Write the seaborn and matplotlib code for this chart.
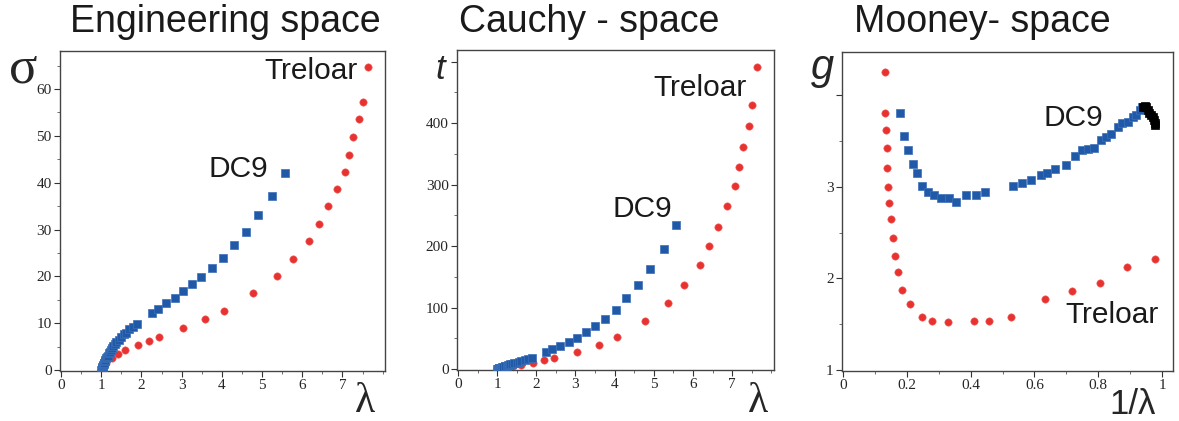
import matplotlib
matplotlib.use("Agg")
import matplotlib.pyplot as plt
import seaborn as sns
import numpy as np
from matplotlib.ticker import MultipleLocator, FixedLocator

# Treloar data (red circles), stretch lambda shared by the first two panels
treloar_lam = [1.00, 1.02, 1.12, 1.26, 1.41, 1.60, 1.92, 2.20, 2.44, 3.03, 3.59, 4.05, 4.78,
               5.37, 5.77, 6.17, 6.42, 6.63, 6.87, 7.07, 7.17, 7.27, 7.42, 7.52, 7.63]
treloar_sigma = [0.0, 0.3, 1.4, 2.5, 3.4, 4.3, 5.3, 6.2, 7.1, 9.0, 10.9, 12.7, 16.4,
                 20.1, 23.8, 27.6, 31.2, 35.0, 38.7, 42.3, 46.0, 49.8, 53.5, 57.2, 64.6]
treloar_t = [0.0, 0.3, 1.6, 3.2, 4.9, 7.0, 10.3, 14.1, 17.9, 27.6, 39.6, 51.5, 78,
             108, 137, 170, 200, 231, 266, 298, 329, 361, 396, 429, 491]
treloar_inv = [0.131, 0.133, 0.135, 0.137, 0.139, 0.141, 0.145, 0.150, 0.156, 0.162, 0.172, 0.186,
               0.209, 0.247, 0.279, 0.330, 0.412, 0.458, 0.525, 0.632, 0.718, 0.806, 0.891, 0.979]
treloar_g = [4.25, 3.81, 3.62, 3.43, 3.21, 3.00, 2.82, 2.65, 2.44, 2.24, 2.07, 1.87,
             1.72, 1.58, 1.54, 1.52, 1.54, 1.53, 1.58, 1.77, 1.86, 1.95, 2.13, 2.21]

# DC9 data (blue squares)
dc9_lam = [1.00, 1.01, 1.02, 1.026, 1.031, 1.037, 1.043, 1.05, 1.057, 1.066, 1.075, 1.09, 1.10,
           1.12, 1.14, 1.16, 1.19, 1.21, 1.24, 1.27, 1.30, 1.34, 1.38, 1.43, 1.50, 1.57, 1.61,
           1.70, 1.78, 1.88, 2.26, 2.41, 2.61, 2.83, 3.03, 3.26, 3.49, 3.75, 4.04, 4.30, 4.59,
           4.91, 5.26, 5.56]
dc9_sigma = [0.0, 0.2, 0.4, 0.5, 0.6, 0.75, 0.9, 1.05, 1.2, 1.4, 1.6, 1.9, 2.1,
             2.5, 2.8, 3.1, 3.6, 3.9, 4.3, 4.7, 5.1, 5.6, 6.0, 6.5, 7.1, 7.7, 8.0,
             8.7, 9.2, 9.75, 12.2, 13.1, 14.4, 15.4, 16.9, 18.3, 19.9, 21.7, 23.9, 26.8, 29.5,
             33.1, 37.1, 42.1]
dc9_t = [0.0, 0.2, 0.4, 0.5, 0.6, 0.8, 0.9, 1.1, 1.3, 1.5, 1.7, 2.1, 2.3,
         2.8, 3.2, 3.6, 4.3, 4.7, 5.3, 6.0, 6.6, 7.5, 8.3, 9.3, 10.6, 12.1, 12.9,
         14.8, 16.4, 18.3, 27.6, 32.0, 37.9, 43.9, 51.0, 60.2, 69.9, 81.3, 96.5, 115, 136,
         162, 195, 234]
dc9_inv = [0.180, 0.190, 0.204, 0.218, 0.232, 0.249, 0.267, 0.285, 0.307, 0.332, 0.354, 0.385,
           0.418, 0.446, 0.533, 0.561, 0.588, 0.620, 0.638, 0.665, 0.700, 0.726, 0.748, 0.769,
           0.787, 0.807, 0.824, 0.839, 0.862, 0.875, 0.893, 0.908, 0.917, 0.930, 0.938]
dc9_g = [3.81, 3.56, 3.40, 3.25, 3.15, 3.01, 2.94, 2.91, 2.88, 2.88, 2.84, 2.91,
         2.91, 2.94, 3.01, 3.04, 3.07, 3.13, 3.15, 3.20, 3.24, 3.34, 3.40, 3.41,
         3.43, 3.51, 3.55, 3.58, 3.65, 3.70, 3.71, 3.76, 3.79, 3.84, 3.87]
# small-strain end of DC9 in Mooney space (black squares)
dc9_end_inv = [0.940, 0.945, 0.950, 0.955, 0.960, 0.965, 0.970, 0.974, 0.977, 0.979]
dc9_end_g = [3.87, 3.88, 3.87, 3.84, 3.81, 3.78, 3.76, 3.73, 3.70, 3.68]

RED = "#e8322f"
BLUE = "#1f59a8"
SANS = "Liberation Sans"
SERIF = "Liberation Serif"

sns.set_style("white")
plt.rcParams["font.family"] = [SANS, "DejaVu Sans"]

fig = plt.figure(figsize=(11.79, 4.21), dpi=100)
ax1 = fig.add_axes([0.0509, 0.1188, 0.2757, 0.760])
ax2 = fig.add_axes([0.3876, 0.1211, 0.2689, 0.760])
ax3 = fig.add_axes([0.7142, 0.1188, 0.2807, 0.758])


def red_pts(ax, x, y):
    sns.scatterplot(x=x, y=y, ax=ax, color=RED, marker="o", s=28,
                    edgecolor="#ee5f5c", linewidth=0.4, zorder=2)


def blue_pts(ax, x, y, c=BLUE, ec="#3d70b9"):
    sns.scatterplot(x=x, y=y, ax=ax, color=c, marker="s", s=32,
                    edgecolor=ec, linewidth=0.5, zorder=3)


red_pts(ax1, treloar_lam, treloar_sigma)
blue_pts(ax1, dc9_lam, dc9_sigma)
red_pts(ax2, treloar_lam, treloar_t)
blue_pts(ax2, dc9_lam, dc9_t)
red_pts(ax3, treloar_inv, treloar_g)
blue_pts(ax3, dc9_inv, dc9_g)
blue_pts(ax3, dc9_end_inv, dc9_end_g, c="black", ec="black")

ax1.set_xlim(-0.025, 8.06)
ax1.set_ylim(-0.2, 68.1)
ax2.set_xlim(-0.025, 8.07)
ax2.set_ylim(-1.6, 519)
ax3.set_xlim(-0.003, 1.034)
ax3.set_ylim(0.989, 4.475)

ax1.xaxis.set_major_locator(FixedLocator(range(0, 8)))
ax1.xaxis.set_minor_locator(MultipleLocator(0.5))
ax1.yaxis.set_major_locator(FixedLocator(range(0, 61, 10)))
ax1.yaxis.set_minor_locator(MultipleLocator(5))

ax2.xaxis.set_major_locator(FixedLocator(range(0, 8)))
ax2.xaxis.set_minor_locator(MultipleLocator(0.5))
ax2.set_yticks([0, 100, 200, 300, 400, 500])
ax2.set_yticklabels(["0", "100", "200", "300", "400", ""])
ax2.yaxis.set_minor_locator(MultipleLocator(50))

ax3.set_xticks([0, 0.2, 0.4, 0.6, 0.8, 1])
ax3.set_xticklabels(["0", "0.2", "0.4", "0.6", "0.8", "1"])
ax3.xaxis.set_minor_locator(MultipleLocator(0.1))
ax3.set_yticks([1, 2, 3, 4])
ax3.set_yticklabels(["1", "2", "3", ""])
ax3.yaxis.set_minor_locator(MultipleLocator(0.5))

for ax in (ax1, ax2, ax3):
    for sp in ax.spines.values():
        sp.set_color("#444444")
        sp.set_linewidth(1.0)
        sp.set_visible(True)
    ax.tick_params(which="major", direction="out", length=4, width=0.8,
                   color="#333333", labelsize=11, pad=2)
    ax.tick_params(which="minor", direction="out", length=2, width=0.6, color="#555555")
    ax.tick_params(left=True, bottom=True, which="both")
    for lab in ax.get_xticklabels() + ax.get_yticklabels():
        lab.set_fontfamily(SERIF)
    ax.set_xlabel("")
    ax.set_ylabel("")

# curve labels
lab_kw = dict(fontsize=21.5, color="#1a1a1a", ha="right", va="baseline", family=SANS)
ax1.text(7.39, 62.1, "Treloar", **lab_kw)
ax1.text(5.15, 41.2, "DC9", **lab_kw)
ax2.text(7.37, 445, "Treloar", **lab_kw)
ax2.text(5.46, 247, "DC9", **lab_kw)
ax3.text(0.815, 3.66, "DC9", **lab_kw)
ax3.text(0.99, 1.51, "Treloar", **lab_kw)

# titles
title_kw = dict(fontsize=27, color="#1a1a1a", ha="center", va="baseline", family=SANS)
fig.text(0.1908, 0.924, "Engineering space", **title_kw)
fig.text(0.4996, 0.924, "Cauchy - space", **title_kw)
fig.text(0.833, 0.924, "Mooney- space", **title_kw)

# axis symbols
fig.text(0.0195, 0.803, "σ", fontsize=38, family=SERIF, ha="center", va="baseline")
fig.text(0.3732, 0.812, "t", fontsize=25, family=SANS, style="italic", ha="center", va="baseline")
fig.text(0.6972, 0.812, "g", fontsize=30, family=SANS, style="italic", ha="center", va="baseline")
fig.text(0.3096, 0.001, "λ", fontsize=30, family=SERIF, ha="center", va="bottom")
fig.text(0.643, 0.001, "λ", fontsize=30, family=SERIF, ha="center", va="bottom")
fig.text(0.961, 0.0, "1/λ", fontsize=25, family=SANS, ha="center", va="bottom")

fig.savefig("out.png", dpi=100)
